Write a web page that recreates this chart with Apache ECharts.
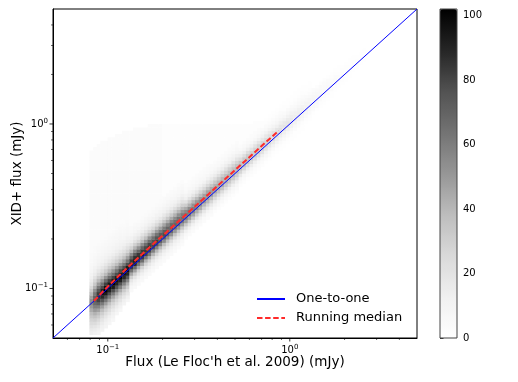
<!DOCTYPE html>
<html><head><meta charset="utf-8">
<script src="https://cdn.jsdelivr.net/npm/echarts@6/dist/echarts.min.js"></script>
<style>html,body{margin:0;padding:0;background:#fff}#c{width:518px;height:382px}</style>
</head><body><div id="c"></div>
<script>
// ---- histogram binning (100 log bins per axis over 0.05 .. 5 mJy) ----
const AXIS_MIN = 0.05;
const AXIS_MAX = 5;
const BIN_LOG_MIN = Math.log10(AXIS_MIN);
const BIN_LOG_WIDTH = 0.02;
const COUNT_MAX = 102;

// first x-bin index that holds data
const colFirstX = 10;
// first y-bin index of each column (x-bin 10 .. 85)
const colStartY = [
  1, 1, 1, 2, 3, 4, 5, 7, 8, 10, 11,
  14, 15, 16, 17, 18, 19, 20, 21, 22, 23, 24, 25, 26, 27, 28,
  30, 31, 32, 33, 34, 35, 36, 37, 38, 39, 40, 41, 42, 43, 44,
  46, 47, 48, 49, 50, 51, 52, 53, 54, 55, 56, 57, 58, 59, 60, 61, 62, 63, 64, 65,
  68, 69, 70, 71, 72, 73, 74, 75, 76, 77, 78, 79, 80, 81, 82
];
// counts per cell, column by column
const colCounts = [
  [14,16,20,24,28,33,38,44,50,56,54,48,40,32,25,19,15,12,10,8,7,6,5,4,4,3],
  [12,15,19,24,29,35,42,50,59,67,72,70,62,52,42,33,26,20,15,12,10,8,7,6,5,4,4,3],
  [10,13,16,20,25,31,38,47,58,70,81,86,83,74,62,50,39,30,23,18,14,11,9,8,7,6,5,4,3],
  [10,12,15,19,24,30,38,48,61,75,88,95,90,78,64,50,39,30,23,18,14,11,9,8,7,6,5,4,3],
  [9,11,14,18,23,29,37,48,62,78,92,101,95,82,66,51,39,30,23,18,14,11,9,8,7,6,5,4,3],
  [8,10,13,17,22,28,36,47,61,77,90,97,93,81,66,52,40,31,24,18,14,11,9,8,7,6,5,4,3],
  [7,9,12,16,21,27,35,46,61,78,93,101,94,80,64,50,39,30,23,18,14,11,9,8,7,6,5,4,3],
  [8,11,15,20,26,34,45,60,76,90,96,91,78,63,49,38,29,22,17,14,11,9,8,7,6,5,4,3],
  [7,10,14,19,25,33,44,59,76,91,100,93,79,63,49,37,28,22,17,13,11,9,8,7,6,5,4,3],
  [9,13,18,24,32,43,58,75,89,95,90,77,61,47,36,28,21,16,13,10,8,7,6,5,4,3],
  [8,12,17,23,31,42,57,74,89,97,92,78,62,48,37,28,21,16,13,10,8,7,6,5,4,3],
  [5,7,12,18,29,45,65,83,92,84,70,54,40,28,20,14,11,8,6,5],
  [5,8,12,19,30,47,67,88,95,86,73,56,41,29,20,15,11,8,7,5],
  [4,7,11,18,28,44,63,81,86,84,69,53,39,27,19,14,11,8,6,4],
  [5,7,12,18,28,45,66,82,90,83,69,53,39,28,20,14,11,8,6,4],
  [4,7,11,17,27,42,61,80,84,79,66,51,37,26,19,14,10,8,6,4],
  [4,7,11,17,28,43,62,79,87,80,67,52,38,27,19,14,10,8,6,4],
  [4,7,11,16,26,41,59,77,81,76,64,49,36,25,18,13,10,7,6,4],
  [4,6,10,16,26,40,58,75,82,75,63,49,36,25,18,13,10,7,6,4],
  [4,6,10,16,25,39,56,72,76,73,61,47,34,24,17,12,9,7,5,4],
  [4,6,10,15,25,38,55,71,78,72,60,46,34,24,17,12,9,7,5,4],
  [4,6,10,15,24,37,53,68,73,69,58,44,33,23,16,12,9,7,5,4],
  [4,6,9,15,23,36,53,67,74,68,57,44,32,23,16,12,9,7,5,4],
  [3,6,9,14,22,35,50,64,70,65,55,42,31,22,15,11,8,6,5,3],
  [3,6,9,14,22,34,50,65,68,64,54,41,30,21,15,11,8,6,5,3],
  [3,5,9,13,21,33,48,61,66,61,51,40,29,20,15,11,8,6,5,3],
  [3,6,12,20,33,49,61,64,56,44,31,20,13,9,6,4,3],
  [3,6,11,20,32,47,60,62,55,42,30,20,13,9,6,4,3],
  [3,6,11,19,31,46,57,60,53,41,29,19,13,8,6,4,3],
  [3,6,10,18,30,43,55,57,50,39,27,18,12,8,6,4,3],
  [3,6,10,18,29,43,53,56,49,38,27,18,12,8,6,4,3],
  [3,5,10,17,28,40,51,53,47,36,25,17,11,7,5,4,3],
  [3,5,9,17,27,40,49,52,46,35,25,17,11,7,5,4,3],
  [3,5,9,16,26,38,48,50,44,34,24,16,11,7,5,4,2],
  [2,5,9,15,25,36,46,48,42,33,23,15,10,7,5,3,2],
  [2,5,8,15,24,35,44,46,40,31,22,15,10,6,5,3,2],
  [2,5,8,14,23,34,43,45,40,31,22,14,9,6,5,3,2],
  [2,4,8,14,22,33,41,43,38,29,21,14,9,6,4,3,2],
  [2,4,8,13,22,32,40,42,37,29,20,13,9,6,4,3,2],
  [2,4,7,13,21,31,39,41,36,28,20,13,9,6,4,3,2],
  [2,4,7,13,21,30,38,40,35,27,19,13,8,6,4,3,2],
  [2,4,8,16,27,36,39,34,23,15,9,5,3,2],
  [2,4,7,15,25,34,37,32,22,14,8,5,3,2],
  [2,4,7,14,24,33,36,31,22,14,8,5,3,2],
  [2,3,7,14,23,31,34,29,20,13,7,4,3,2],
  [2,3,7,13,22,30,33,28,20,13,7,4,3,2],
  [2,3,6,13,22,29,32,28,19,12,7,4,3,2],
  [2,3,6,12,20,28,30,26,18,11,7,4,2,2],
  [1,3,6,11,19,26,28,24,17,11,6,4,2,1],
  [1,3,5,10,18,24,26,22,16,10,6,3,2,1],
  [1,2,5,10,16,22,24,21,14,9,5,3,2,1],
  [1,2,4,9,15,20,22,19,13,8,5,3,2,1],
  [1,2,4,8,14,19,21,18,13,8,5,3,2,1],
  [1,2,4,8,13,17,19,16,11,7,4,2,2,1],
  [1,2,4,7,12,17,18,15,11,7,4,2,1,1],
  [1,2,3,6,11,15,16,14,10,6,4,2,1,1],
  [1,1,3,6,10,13,14,12,8,5,3,2,1,1],
  [1,1,3,5,9,12,13,11,8,5,3,2,1,1],
  [1,1,2,5,8,11,12,10,7,5,3,2,1,1],
  [0,1,2,4,7,9,10,9,6,4,2,1,1,0],
  [0,1,2,4,6,8,9,8,5,3,2,1,1,0],
  [1,3,5,7,8,7,5,3],
  [1,3,5,6,7,6,4,2],
  [1,2,4,6,6,5,4,2],
  [1,2,3,5,5,4,3,2],
  [1,2,3,4,5,4,3,1],
  [1,1,3,4,4,3,2,1],
  [0,1,2,3,4,3,2,1],
  [0,1,2,3,3,2,1,1],
  [0,1,2,3,3,2,1,0],
  [0,1,1,2,2,2,1,0],
  [0,1,1,2,2,1,1,0],
  [0,0,1,2,2,1,1,0],
  [0,0,1,2,2,1,0,0],
  [0,0,1,1,1,1,0,0],
  [0,0,1,1,1,1,0,0]
];
// faint scatter above the band: top y-bin and typical count for x-bins 10 .. 60
const haloTop = [
  56,57,58,59,59,60,60,61,61,62,62,62,63,63,63,63,64,64,64,64,
  64,64,64,64,64,64,64,64,64,64,64,64,64,64,64,64,64,64,64,64,
  64,64,64,64,64,65,65,65,65,65,65
];
const haloLevel = [
  3,3,3,3,3,3,3,3,3,3,3,3,3,3,3,3,3,3,3,3,
  2,2,2,2,2,2,2,2,2,2,2,2,2,2,2,2,2,2,2,2,
  2,2,2,2,2,2,2,2,2,2,2
];

const oneToOneX = [0.05, 5];
const oneToOneY = [0.05, 5];
const medianX = [0.084, 0.095, 0.11, 0.13, 0.15, 0.18, 0.21, 0.25, 0.3, 0.36, 0.43, 0.52, 0.62, 0.73, 0.87];
const medianY = [0.084, 0.097, 0.114, 0.136, 0.157, 0.189, 0.22, 0.262, 0.314, 0.377, 0.451, 0.545, 0.65, 0.766, 0.91];

const majorTicks = [0.1, 1];
const minorTicks = [0.06, 0.07, 0.08, 0.09, 0.2, 0.3, 0.4, 0.5, 0.6, 0.7, 0.8, 0.9, 2, 3, 4];
const cbarTicks = [0, 20, 40, 60, 80, 100];
const greys = ['#ffffff','#f0f0f0','#d9d9d9','#bdbdbd','#969696','#737373','#525252','#252525','#000000'];

const FONT = 'DejaVu Sans';

// ---- build cell list ----
function binCenter(k) { return Math.pow(10, BIN_LOG_MIN + (k + 0.5) * BIN_LOG_WIDTH); }
const cells = [];
colCounts.forEach((col, k) => {
  const i = colFirstX + k;
  const top = colStartY[k] + col.length;
  if (k < haloTop.length) {
    for (let j = top; j <= haloTop[k]; j++) cells.push([binCenter(i), binCenter(j), haloLevel[k], i, j]);
  }
  col.forEach((v, n) => {
    const j = colStartY[k] + n;
    if (v > 0) cells.push([binCenter(i), binCenter(j), v, i, j]);
  });
});

function renderCell(params, api) {
  const i = api.value(3), j = api.value(4);
  const x0 = Math.pow(10, BIN_LOG_MIN + i * BIN_LOG_WIDTH);
  const x1 = Math.pow(10, BIN_LOG_MIN + (i + 1) * BIN_LOG_WIDTH);
  const y0 = Math.pow(10, BIN_LOG_MIN + j * BIN_LOG_WIDTH);
  const y1 = Math.pow(10, BIN_LOG_MIN + (j + 1) * BIN_LOG_WIDTH);
  const p0 = api.coord([x0, y0]);
  const p1 = api.coord([x1, y1]);
  return {
    type: 'rect',
    shape: { x: p0[0], y: p1[1], width: p1[0] - p0[0] + 0.35, height: p0[1] - p1[1] + 0.35 },
    style: { fill: api.visual('color') }
  };
}

// tick marks: [x, y, kind] kind 0 x-major,1 x-minor,2 y-major,3 y-minor
const tickData = [];
majorTicks.forEach(v => { tickData.push([v, AXIS_MIN, 0]); tickData.push([AXIS_MIN, v, 2]); });
minorTicks.forEach(v => { tickData.push([v, AXIS_MIN, 1]); tickData.push([AXIS_MIN, v, 3]); });
function renderTick(params, api) {
  const p = api.coord([api.value(0), api.value(1)]);
  const kind = api.value(2);
  const len = (kind === 0 || kind === 2) ? 3.5 : 2;
  const w = (kind === 0 || kind === 2) ? 0.8 : 0.6;
  const shape = kind < 2
    ? { x1: p[0], y1: p[1], x2: p[0], y2: p[1] + len }
    : { x1: p[0] - len, y1: p[1], x2: p[0], y2: p[1] };
  return { type: 'line', shape: shape, style: { stroke: '#000', lineWidth: w } };
}

function powLabel(v) {
  const e = Math.log10(v), r = Math.round(e);
  if (Math.abs(e - r) > 1e-6) return '';
  return '{b|10}{s|' + (r < 0 ? '\u2212' + (-r) : String(r)) + '}';
}
const labelRich = {
  b: { fontSize: 10, fontFamily: FONT, color: '#000' },
  s: { fontSize: 7, fontFamily: FONT, color: '#000', verticalAlign: 'top', padding: [0, 0, 6, 0] }
};

const chart = echarts.init(document.getElementById('c'), null, { renderer: 'canvas' });
chart.setOption({
  animation: false,
  backgroundColor: '#fff',
  grid: [
    { left: 53, top: 9, width: 364, height: 329, show: true, borderColor: '#000', borderWidth: 1,
      backgroundColor: 'transparent', outerBoundsMode: 'none', containLabel: false },
    { left: 440, top: 9, width: 17, height: 329, show: true, borderColor: '#444', borderWidth: 1,
      backgroundColor: 'transparent', z: 10, outerBoundsMode: 'none', containLabel: false }
  ],
  xAxis: [
    { gridIndex: 0, type: 'log', logBase: 10, min: AXIS_MIN, max: AXIS_MAX,
      name: "Flux (Le Floc'h et al. 2009) (mJy)", nameLocation: 'middle', nameGap: 17, nameMoveOverlap: false,
      nameTextStyle: { fontSize: 13.5, fontFamily: FONT, color: '#000' },
      axisLine: { show: true, lineStyle: { color: '#000', width: 1 } },
      axisTick: { show: false }, splitLine: { show: false }, minorTick: { show: false },
      axisLabel: { formatter: powLabel, rich: labelRich, margin: 6, showMinLabel: true, showMaxLabel: true, hideOverlap: false } },
    { gridIndex: 1, type: 'value', min: 0, max: 1, show: false }
  ],
  yAxis: [
    { gridIndex: 0, type: 'log', logBase: 10, min: AXIS_MIN, max: AXIS_MAX,
      name: 'XID+ flux (mJy)', nameLocation: 'middle', nameGap: 29, nameMoveOverlap: false,
      nameTextStyle: { fontSize: 13.5, fontFamily: FONT, color: '#000' },
      axisLine: { show: true, lineStyle: { color: '#000', width: 1 } },
      axisTick: { show: false }, splitLine: { show: false }, minorTick: { show: false },
      axisLabel: { formatter: powLabel, rich: labelRich, margin: 5, hideOverlap: false } },
    { gridIndex: 1, type: 'value', min: 0, max: COUNT_MAX, interval: 20, position: 'right',
      axisLine: { show: false },
      axisTick: { show: true, length: 3.5, lineStyle: { color: '#000', width: 0.8 } },
      splitLine: { show: false },
      axisLabel: { fontSize: 10, fontFamily: FONT, color: '#000', margin: 6,
        formatter: v => (cbarTicks.indexOf(v) >= 0 ? String(v) : '') } }
  ],
  visualMap: {
    type: 'continuous', min: 0, max: COUNT_MAX, seriesIndex: 0, dimension: 2,
    left: 440, top: 9, itemWidth: 17, itemHeight: 329, padding: 0, calculable: false,
    inRange: { color: greys }, z: 4
  },
  legend: {
    data: ['One-to-one', 'Running median'], orient: 'vertical', left: 256, top: 292.5,
    padding: 0, itemWidth: 28, itemHeight: 14, itemGap: 6,
    itemStyle: { opacity: 0, borderWidth: 0 },
    textStyle: { fontSize: 13, fontFamily: FONT, color: '#000', padding: [0, 0, 0, 6] }
  },
  series: [
    { type: 'custom', name: 'counts', xAxisIndex: 0, yAxisIndex: 0, data: cells,
      encode: { x: 0, y: 1 }, renderItem: renderCell, clip: true, silent: true, z: 1 },
    { type: 'line', name: 'One-to-one', xAxisIndex: 0, yAxisIndex: 0,
      data: oneToOneX.map((x, k) => [x, oneToOneY[k]]), symbol: 'none',
      lineStyle: { color: '#0000ff', width: 1 }, itemStyle: { color: '#0000ff' }, z: 5, silent: true },
    { type: 'line', name: 'Running median', xAxisIndex: 0, yAxisIndex: 0,
      data: medianX.map((x, k) => [x, medianY[k]]), symbol: 'none',
      lineStyle: { color: '#ff2a2a', width: 2, type: [5.5, 2.6] }, itemStyle: { color: '#ff2a2a' }, z: 6, silent: true },
    { type: 'custom', name: 'ticks', xAxisIndex: 0, yAxisIndex: 0, data: tickData,
      encode: { x: 0, y: 1 }, renderItem: renderTick, clip: false, silent: true, z: 7 }
  ]
});
</script>
</body></html>
